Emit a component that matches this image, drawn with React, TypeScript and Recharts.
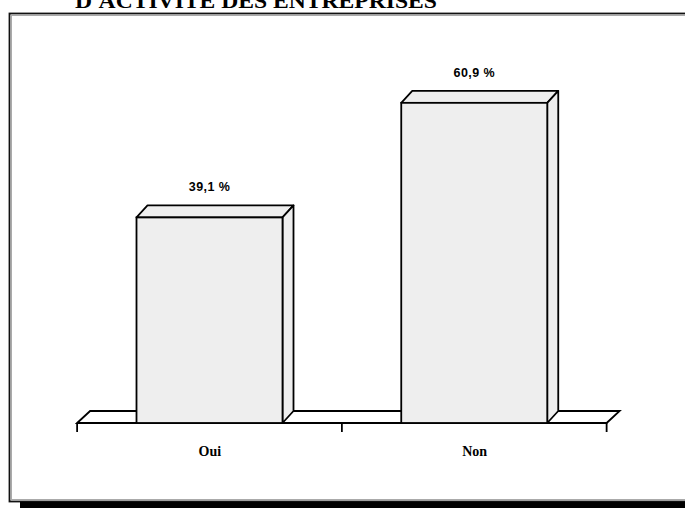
import React from "react";
import { BarChart, Bar, XAxis, YAxis, LabelList } from "recharts";

const categories = ["Oui", "Non"];
const percents = [39.1, 60.9];
const title = "D'ACTIVITE DES ENTREPRISES";

const W = 685;
const H = 508;
const MARGIN = { top: 55, right: 78, left: 77.5, bottom: 55 };
const PLOT_W = W - MARGIN.left - MARGIN.right;
const BAND = PLOT_W / categories.length;
const BAR_W = 146;
// profondeur de l'effet 3D
const DX = 11;
const DY = 12;
const FLOOR_DX = 13;

const data = categories.map((name, i) => ({ name, value: percents[i] }));

const fmt = (v: number) => `${v.toFixed(1).replace(".", ",")} %`;

function Bar3D(props: any) {
  const { x, y, width, height, index } = props;
  const base = y + height;
  let floor = null;
  if (index === 0) {
    // sol 3D + graduations, dessiné une seule fois sous les barres
    const left = x - (BAND - width) / 2;
    const right = left + BAND * categories.length;
    const ticks = [];
    for (let k = 0; k <= categories.length; k++) {
      const tx = left + k * BAND;
      ticks.push(<line key={k} x1={tx} x2={tx} y1={base} y2={base + 9} stroke="#000" strokeWidth={1.8} />);
    }
    floor = (
      <g>
        <polygon
          points={`${left},${base} ${left + FLOOR_DX},${base - DY} ${right + FLOOR_DX},${base - DY} ${right},${base}`}
          fill="#fff"
          stroke="#000"
          strokeWidth={1.8}
        />
        {ticks}
      </g>
    );
  }
  return (
    <g>
      {floor}
      <polygon
        points={`${x},${y} ${x + DX},${y - DY} ${x + width + DX},${y - DY} ${x + width},${y}`}
        fill="#eeeeee"
        stroke="#000"
        strokeWidth={1.8}
        strokeLinejoin="round"
      />
      <polygon
        points={`${x + width},${y} ${x + width + DX},${y - DY} ${x + width + DX},${base - DY} ${x + width},${base}`}
        fill="#eeeeee"
        stroke="#000"
        strokeWidth={1.8}
        strokeLinejoin="round"
      />
      <rect x={x} y={y} width={width} height={height} fill="#eeeeee" stroke="#000" strokeWidth={1.8} />
    </g>
  );
}

function CatTick(props: any) {
  const { x, y, payload } = props;
  return (
    <text
      x={x}
      y={y}
      dy={33}
      textAnchor="middle"
      fontFamily="'Liberation Serif', serif"
      fontWeight="bold"
      fontSize={14}
      fill="#000"
    >
      {payload.value}
    </text>
  );
}

function ValueLabel(props: any) {
  const { x, y, width, value } = props;
  return (
    <text
      x={x + width / 2}
      y={y - 26}
      textAnchor="middle"
      fontFamily="'Liberation Sans', Arial, sans-serif"
      fontWeight="bold"
      fontSize={12.5}
      letterSpacing={0.4}
      fill="#000"
    >
      {fmt(value)}
    </text>
  );
}

export default function App() {
  return (
    <div style={{ position: "absolute", left: 0, top: 0, width: W, height: H, overflow: "hidden", background: "#fff" }}>
      <svg width={W} height={H} style={{ position: "absolute", left: 0, top: 0 }}>
        <rect x={9.5} y={13.5} width={720} height={488} fill="#fff" stroke="#111" strokeWidth={1.8} />
        <rect x={11.5} y={15.5} width={720} height={484} fill="none" stroke="#aaa" strokeWidth={1} />
        <rect x={20} y={502} width={720} height={6} fill="#000" />
        <text
          x={75}
          y={8}
          fontFamily="'Liberation Serif', serif"
          fontWeight="bold"
          fontSize={20}
          textLength={362}
          lengthAdjust="spacingAndGlyphs"
          fill="#000"
        >
          {title}
        </text>
      </svg>
      <div style={{ position: "absolute", left: 0, top: 0 }}>
        <BarChart width={W} height={H} data={data} margin={MARGIN}>
          <XAxis
            dataKey="name"
            axisLine={false}
            tickLine={false}
            tickSize={0}
            tickMargin={0}
            height={30}
            tick={<CatTick />}
            interval={0}
          />
          <YAxis hide domain={[0, 70]} />
          <Bar dataKey="value" barSize={BAR_W} shape={<Bar3D />} isAnimationActive={false}>
            <LabelList dataKey="value" content={<ValueLabel />} />
          </Bar>
        </BarChart>
      </div>
    </div>
  );
}
